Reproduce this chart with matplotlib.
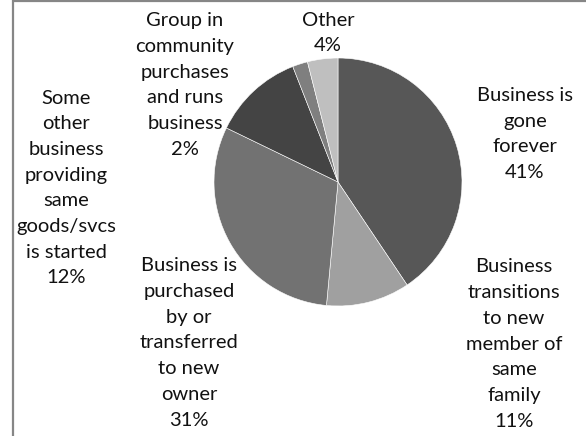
import matplotlib.pyplot as plt
from matplotlib.patches import Rectangle

# slice data, clockwise from 12 o'clock
categories = ['Business is\ngone\nforever',
              'Business\ntransitions\nto new\nmember of\nsame\nfamily',
              'Business is\npurchased\nby or\ntransferred\nto new\nowner',
              'Some\nother\nbusiness\nproviding\nsame\ngoods/svcs\nis started',
              'Group in\ncommunity\npurchases\nand runs\nbusiness',
              'Other']
shares = [41, 11, 31, 12, 2, 4]
colors = ['#575757', '#a0a0a0', '#727272', '#444444', '#7f7f7f', '#bfbfbf']

# label centres in pixel coords (from top-left)
label_xy = [(525, 134), (514, 344), (189, 343), (66, 188), (185, 85), (328, 33)]

W, H = 586, 436
plt.rcParams['font.family'] = ['Lato', 'DejaVu Sans']

fig = plt.figure(figsize=(W / 100, H / 100), dpi=100)
ax = fig.add_axes([0, 0, 1, 1])
ax.axis('off')

ax.pie(shares, colors=colors, startangle=90, counterclock=False,
       center=(338, H - 182), radius=124,
       wedgeprops={'edgecolor': 'white', 'linewidth': 0.4})
ax.set_xlim(0, W)
ax.set_ylim(0, H)
ax.set_aspect('equal')

for cat, val, (x, y) in zip(categories, shares, label_xy):
    ax.text(x, H - y, '%s\n%d%%' % (cat, val), ha='center', va='center',
            fontsize=14.5, color='#111111', linespacing=1.62)

# chart border (cropped on right/bottom)
ax.add_patch(Rectangle((13, -10), 700, H - 1 + 10, fill=False,
                       edgecolor='#868686', linewidth=1.6, clip_on=False))

fig.savefig('out.png', dpi=100)
